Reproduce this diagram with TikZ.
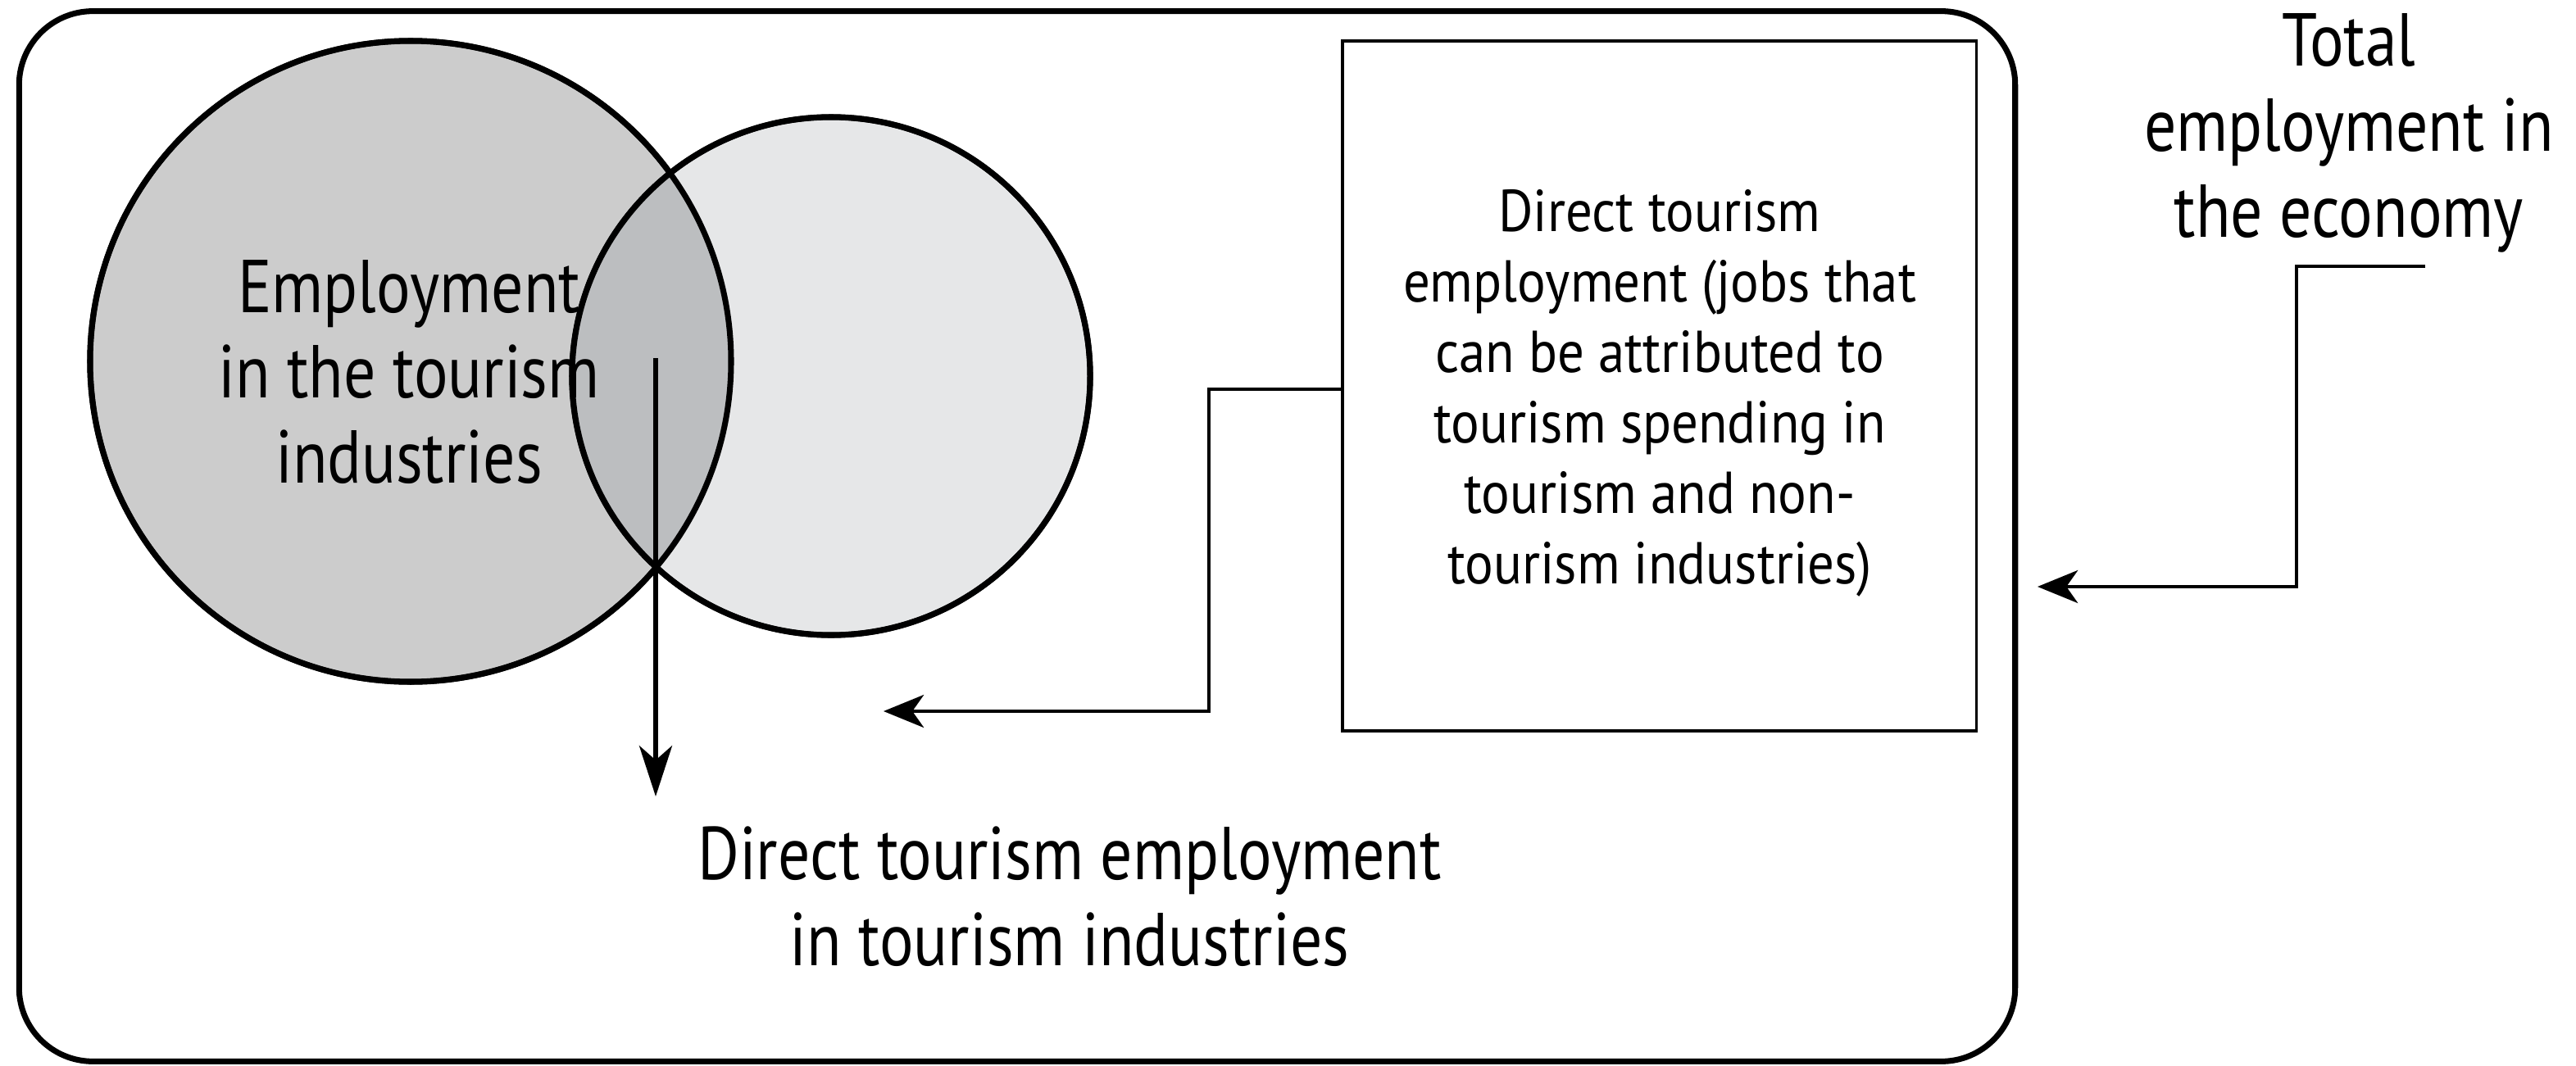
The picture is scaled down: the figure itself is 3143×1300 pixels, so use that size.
\documentclass[tikz,border=0pt]{standalone}
\usepackage{fontspec}
\newfontfamily\lab{PT Sans}[FakeStretch=0.85]
\newfontfamily\labs{PT Sans}[FakeStretch=0.9]
\usetikzlibrary{arrows.meta}
\definecolor{lgray}{gray}{0.80}
\definecolor{rgray}{RGB}{230,231,232}
\definecolor{mgray}{RGB}{188,190,192}
\tikzset{
  big/.style={font=\lab\fontsize{26pt}{29.7pt}\selectfont, align=center, inner sep=0pt},
  small/.style={font=\labs\fontsize{20.5pt}{24.5pt}\selectfont, align=center, inner sep=0pt},
  conn/.style={line width=1pt, -{Stealth[length=14pt,width=11.4pt,inset=4pt]}},
  vconn/.style={line width=1.5pt, -{Stealth[length=17.6pt,width=11.4pt,inset=5pt]}},
  venn/.style={circle, draw, line width=2pt, inner sep=0pt},
}
\begin{document}
\begin{tikzpicture}[x=0.01cm,y=-0.01cm]
\useasboundingbox (0,0) rectangle (3143,1300);
% outer frame
\node[draw, line width=2pt, rounded corners=0.9cm, minimum width=24.34cm, minimum height=12.81cm, inner sep=0pt] (frame) at (1241,654.5) {};
% circles
\node[venn, fill=lgray, minimum size=7.82cm] (lc) at (501,441) {};
\node[venn, fill=rgray, minimum size=6.32cm] (rc) at (1014,459) {};
\begin{scope}
  \clip (501,441) circle[radius=391];
  \fill[mgray] (1014,459) circle[radius=316];
\end{scope}
\draw[line width=2pt] (501,441) circle[radius=391];
\draw[line width=2pt] (1014,459) circle[radius=316];
% texts
\node[big] (ltxt) at (499,454) {Employment\\in the tourism\\industries};
\node[big] (total) at (2866,162) {Total\\employment in\\the economy};
\node[big] (bottom) at (1305,1094) {Direct tourism employment\\in tourism industries};
\node[draw, line width=1pt, minimum width=7.73cm, minimum height=8.42cm, inner sep=0pt] (box) at (2024.5,471) {};
\node[small] (boxtxt) at (2025,480) {Direct tourism\\employment (jobs that\\can be attributed to\\tourism spending in\\tourism and non-\\tourism industries)};
% connectors
\coordinate (vstart) at (800,437);
\coordinate (vend) at (800,972);
\draw[vconn] (vstart) -- (vend);
\coordinate (bcorner) at (1475,475);
\coordinate (bend) at (1078,868);
\draw[conn] (box.west |- bcorner) -- (bcorner) |- (bend);
\coordinate (tstart) at (2959,325);
\coordinate (tcorner) at (2802,325);
\coordinate (tend) at (2486,716);
\draw[conn] (tstart) -- (tcorner) |- (tend);
\end{tikzpicture}
\end{document}
